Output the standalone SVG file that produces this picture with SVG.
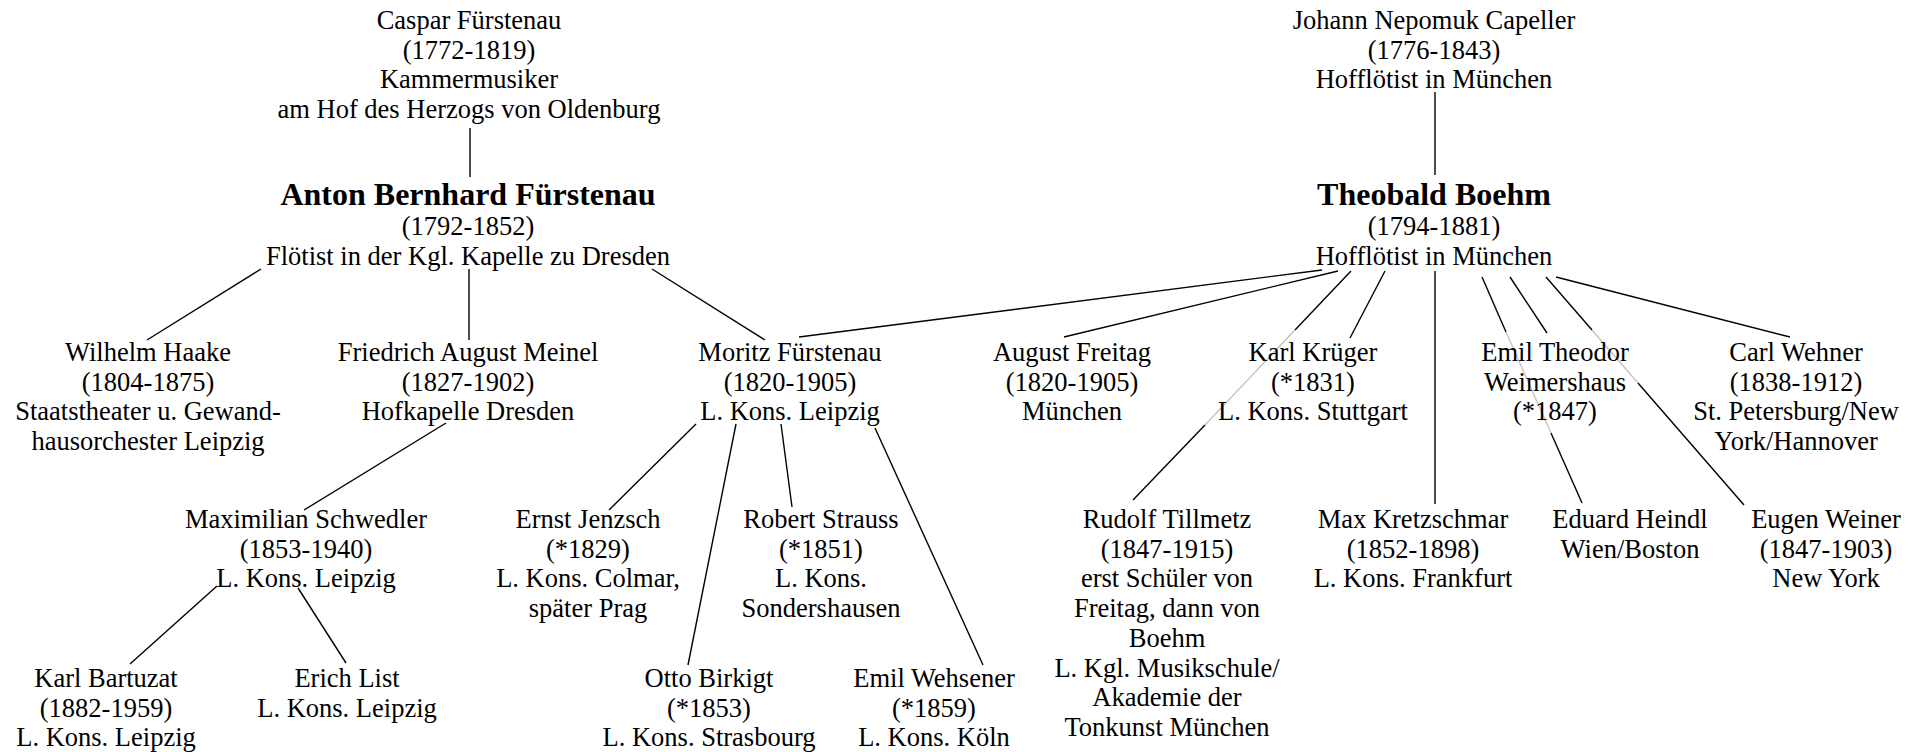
<svg xmlns="http://www.w3.org/2000/svg" width="1923" height="752" viewBox="0 0 1923 752">
<style>
text{font-family:"Liberation Serif","Times New Roman",serif;font-size:26.5px;fill:#000;text-anchor:middle}
.b{font-weight:bold;font-size:32px}
line{stroke:#000;stroke-width:1.4}
line.f{stroke:#c4c4c4}
</style>
<rect width="1923" height="752" fill="#fff"/>
<g id="connectors">
<line x1="470" y1="128" x2="470" y2="177"/>
<line x1="1435" y1="92" x2="1435" y2="175"/>
<line x1="261" y1="269" x2="147" y2="340"/>
<line x1="469" y1="269" x2="469" y2="340"/>
<line x1="652" y1="269" x2="765" y2="340"/>
<line x1="446" y1="423" x2="304" y2="510"/>
<line x1="696" y1="424" x2="609" y2="510"/>
<line x1="736" y1="424" x2="688" y2="665"/>
<line x1="781" y1="424" x2="792" y2="507"/>
<line x1="875" y1="428" x2="983" y2="665"/>
<line x1="217" y1="586" x2="130" y2="664"/>
<line x1="298" y1="588" x2="346" y2="663"/>
<line x1="1322" y1="270" x2="799" y2="337"/>
<line x1="1338" y1="271" x2="1064" y2="337"/>
<line x1="1351" y1="271" x2="1295" y2="330"/>
<line class="f" x1="1295" y1="330" x2="1205" y2="425"/>
<line x1="1205" y1="425" x2="1133" y2="500"/>
<line x1="1385" y1="271" x2="1350" y2="338"/>
<line x1="1435" y1="271" x2="1435" y2="504"/>
<line x1="1482" y1="277" x2="1506" y2="332"/>
<line class="f" x1="1506" y1="332" x2="1551" y2="433"/>
<line x1="1551" y1="433" x2="1582" y2="503"/>
<line x1="1510" y1="277" x2="1547" y2="333"/>
<line x1="1546" y1="277" x2="1592" y2="330"/>
<line class="f" x1="1592" y1="330" x2="1638" y2="383"/>
<line x1="1638" y1="383" x2="1744" y2="505"/>
<line x1="1556" y1="277" x2="1790" y2="337"/>
</g>
<g id="n-caspar"><text x="469" y="29"><tspan x="469">Caspar Fürstenau</tspan><tspan x="469" dy="29.7">(1772-1819)</tspan><tspan x="469" dy="29.7">Kammermusiker</tspan><tspan x="469" dy="29.7">am Hof des Herzogs von Oldenburg</tspan></text></g>
<g id="n-anton"><text class="b" x="468" y="205">Anton Bernhard Fürstenau</text><text x="468" y="235"><tspan x="468">(1792-1852)</tspan><tspan x="468" dy="30">Flötist in der Kgl. Kapelle zu Dresden</tspan></text></g>
<g id="n-capeller"><text x="1434" y="29"><tspan x="1434">Johann Nepomuk Capeller</tspan><tspan x="1434" dy="29.7">(1776-1843)</tspan><tspan x="1434" dy="29.7">Hofflötist in München</tspan></text></g>
<g id="n-boehm"><text class="b" x="1434" y="205">Theobald Boehm</text><text x="1434" y="235"><tspan x="1434">(1794-1881)</tspan><tspan x="1434" dy="30">Hofflötist in München</tspan></text></g>
<g id="n-haake"><text x="148" y="361"><tspan x="148">Wilhelm Haake</tspan><tspan x="148" dy="29.7">(1804-1875)</tspan><tspan x="148" dy="29.7">Staatstheater u. Gewand-</tspan><tspan x="148" dy="29.7">hausorchester Leipzig</tspan></text></g>
<g id="n-meinel"><text x="468" y="361"><tspan x="468">Friedrich August Meinel</tspan><tspan x="468" dy="29.7">(1827-1902)</tspan><tspan x="468" dy="29.7">Hofkapelle Dresden</tspan></text></g>
<g id="n-moritz"><text x="790" y="361"><tspan x="790">Moritz Fürstenau</tspan><tspan x="790" dy="29.7">(1820-1905)</tspan><tspan x="790" dy="29.7">L. Kons. Leipzig</tspan></text></g>
<g id="n-freitag"><text x="1072" y="361"><tspan x="1072">August Freitag</tspan><tspan x="1072" dy="29.7">(1820-1905)</tspan><tspan x="1072" dy="29.7">München</tspan></text></g>
<g id="n-krueger"><text x="1313" y="361"><tspan x="1313">Karl Krüger</tspan><tspan x="1313" dy="29.7">(*1831)</tspan><tspan x="1313" dy="29.7">L. Kons. Stuttgart</tspan></text></g>
<g id="n-weimershaus"><text x="1555" y="361"><tspan x="1555">Emil Theodor</tspan><tspan x="1555" dy="29.7">Weimershaus</tspan><tspan x="1555" dy="29.7">(*1847)</tspan></text></g>
<g id="n-wehner"><text x="1796" y="361"><tspan x="1796">Carl Wehner</tspan><tspan x="1796" dy="29.7">(1838-1912)</tspan><tspan x="1796" dy="29.7">St. Petersburg/New</tspan><tspan x="1796" dy="29.7">York/Hannover</tspan></text></g>
<g id="n-schwedler"><text x="306" y="528"><tspan x="306">Maximilian Schwedler</tspan><tspan x="306" dy="29.7">(1853-1940)</tspan><tspan x="306" dy="29.7">L. Kons. Leipzig</tspan></text></g>
<g id="n-jenzsch"><text x="588" y="528"><tspan x="588">Ernst Jenzsch</tspan><tspan x="588" dy="29.7">(*1829)</tspan><tspan x="588" dy="29.7">L. Kons. Colmar,</tspan><tspan x="588" dy="29.7">später Prag</tspan></text></g>
<g id="n-strauss"><text x="821" y="528"><tspan x="821">Robert Strauss</tspan><tspan x="821" dy="29.7">(*1851)</tspan><tspan x="821" dy="29.7">L. Kons.</tspan><tspan x="821" dy="29.7">Sondershausen</tspan></text></g>
<g id="n-tillmetz"><text x="1167" y="528"><tspan x="1167">Rudolf Tillmetz</tspan><tspan x="1167" dy="29.7">(1847-1915)</tspan><tspan x="1167" dy="29.7">erst Schüler von</tspan><tspan x="1167" dy="29.7">Freitag, dann von</tspan><tspan x="1167" dy="29.7">Boehm</tspan><tspan x="1167" dy="29.7">L. Kgl. Musikschule/</tspan><tspan x="1167" dy="29.7">Akademie der</tspan><tspan x="1167" dy="29.7">Tonkunst München</tspan></text></g>
<g id="n-kretzschmar"><text x="1413" y="528"><tspan x="1413">Max Kretzschmar</tspan><tspan x="1413" dy="29.7">(1852-1898)</tspan><tspan x="1413" dy="29.7">L. Kons. Frankfurt</tspan></text></g>
<g id="n-heindl"><text x="1630" y="528"><tspan x="1630">Eduard Heindl</tspan><tspan x="1630" dy="29.7">Wien/Boston</tspan></text></g>
<g id="n-weiner"><text x="1826" y="528"><tspan x="1826">Eugen Weiner</tspan><tspan x="1826" dy="29.7">(1847-1903)</tspan><tspan x="1826" dy="29.7">New York</tspan></text></g>
<g id="n-bartuzat"><text x="106" y="687"><tspan x="106">Karl Bartuzat</tspan><tspan x="106" dy="29.7">(1882-1959)</tspan><tspan x="106" dy="29.7">L. Kons. Leipzig</tspan></text></g>
<g id="n-list"><text x="347" y="687"><tspan x="347">Erich List</tspan><tspan x="347" dy="29.7">L. Kons. Leipzig</tspan></text></g>
<g id="n-birkigt"><text x="709" y="687"><tspan x="709">Otto Birkigt</tspan><tspan x="709" dy="29.7">(*1853)</tspan><tspan x="709" dy="29.7">L. Kons. Strasbourg</tspan></text></g>
<g id="n-wehsener"><text x="934" y="687"><tspan x="934">Emil Wehsener</tspan><tspan x="934" dy="29.7">(*1859)</tspan><tspan x="934" dy="29.7">L. Kons. Köln</tspan></text></g>
</svg>
